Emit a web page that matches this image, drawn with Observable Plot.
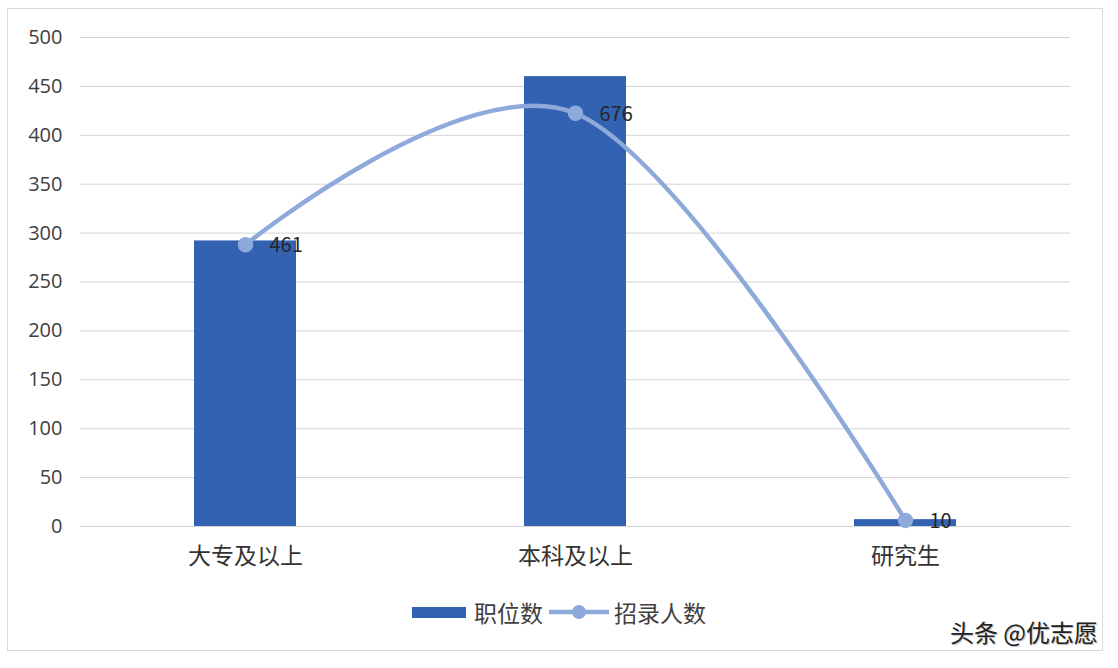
<!DOCTYPE html>
<html>
<head>
<meta charset="utf-8">
<script src="https://cdn.jsdelivr.net/npm/d3@7"></script>
<script src="https://cdn.jsdelivr.net/npm/@observablehq/plot@0.6"></script>
<style>
  html, body { margin: 0; padding: 0; background: #fff; }
  body { font-family: "Noto Sans CJK SC", "Noto Sans", sans-serif; }
  #wrap { position: relative; width: 1118px; height: 668px; overflow: hidden; }
  #frame { position: absolute; left: 7px; top: 8px; width: 1096px; height: 643px; border: 1px solid #d9d9d9; box-sizing: border-box; }
  #chart { position: absolute; left: 0; top: 0; }
  #legend { position: absolute; left: 0; width: 1118px; top: 595px; display: flex; justify-content: center; align-items: center; font-size: 23px; color: #404040; }
  #legend .item { display: flex; align-items: center; }
  #legend svg { display: block; }
  #credit { position: absolute; right: 16px; top: 614px; font-size: 24px; color: #222; background: #fff; padding: 0 4px; text-shadow: 1px 1px 1px #bbb; }
</style>
</head>
<body>
<div id="wrap">
  <div id="frame"></div>
  <div id="chart"></div>
  <div id="legend"></div>
  <div id="credit">头条 @优志愿</div>
</div>
<script>
// ---- data ----
const categories = ["大专及以上", "本科及以上", "研究生"];
const positions = [292, 460, 7];        // 职位数 (primary axis)
const recruits = [461, 676, 10];        // 招录人数 (secondary axis, hidden, 0–800)
const yTicks = [0, 50, 100, 150, 200, 250, 300, 350, 400, 450, 500];
const seriesNames = ["职位数", "招录人数"];
const secondaryMax = 800;
const primaryMax = 500;

const barColor = "#3462b3";
const lineColor = "#8eaadb";

const rows = categories.map((c, i) => ({cat: c, pos: positions[i], rec: recruits[i]}));
// map secondary-axis value onto primary scale range (emulates Excel secondary axis)
const toPrimary = v => v * primaryMax / secondaryMax;

const chart = Plot.plot({
  width: 1118,
  height: 590,
  marginTop: 37,
  marginBottom: 64,
  marginLeft: 80,
  marginRight: 48,
  style: {fontFamily: "'Noto Sans CJK SC', 'Noto Sans', sans-serif", background: "transparent"},
  x: {domain: categories, paddingInner: 0.69, paddingOuter: 0.345, align: 0.5, label: null},
  y: {domain: [0, primaryMax], label: null},
  marks: [
    Plot.ruleY(yTicks, {stroke: "#d4d4d4", strokeWidth: 1}),
    Plot.axisY({ticks: yTicks, tickSize: 0, tickPadding: 18, fontSize: 20, fontFamily: "'Open Sans', 'Noto Sans', sans-serif", fill: "#404040", label: null}),
    Plot.axisX({tickSize: 0, tickPadding: 21, fontSize: 23, fill: "#333", label: null}),
    Plot.barY(rows, {x: "cat", y: "pos", fill: barColor}),
    Plot.line(rows, {x: "cat", y: d => toPrimary(d.rec), stroke: lineColor, strokeWidth: 4.5, curve: "cardinal"}),
    Plot.dot(rows, {x: "cat", y: d => toPrimary(d.rec), r: 7, fill: lineColor, stroke: lineColor}),
    Plot.text(rows, {x: "cat", y: d => toPrimary(d.rec), text: d => String(d.rec), textAnchor: "start", dx: 24, dy: 1, fontSize: 20, fill: "#262626"})
  ]
});
document.getElementById("chart").appendChild(chart);

// legend
const legend = document.getElementById("legend");
const mk = (html) => { const d = document.createElement("div"); d.className = "item"; d.innerHTML = html; return d; };
legend.appendChild(mk(`<svg width="54" height="14"><rect x="0" y="2" width="54" height="11" fill="${barColor}"/></svg><span style="margin:0 6px 0 8px">${seriesNames[0]}</span>`));
legend.appendChild(mk(`<svg width="60" height="16"><line x1="0" y1="8" x2="60" y2="8" stroke="${lineColor}" stroke-width="4.5"/><circle cx="30" cy="8" r="7" fill="${lineColor}"/></svg><span style="margin-left:5px">${seriesNames[1]}</span>`));
</script>
</body>
</html>
